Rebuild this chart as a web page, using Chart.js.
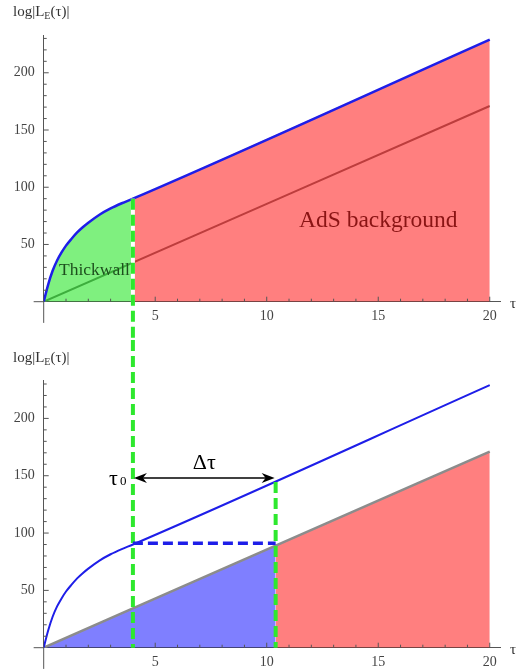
<!DOCTYPE html>
<html>
<head>
<meta charset="utf-8">
<script src="https://cdn.jsdelivr.net/npm/chart.js@4.4.0/dist/chart.umd.min.js"></script>
<style>
  body { margin: 0; background: #fff; }
  .box { position: absolute; left: 0; width: 518px; }
  #top { top: 0; height: 340px; }
  #bottom { top: 340px; height: 331px; }
</style>
</head>
<body>
<div class="box" id="top"><canvas id="chartTop"></canvas></div>
<div class="box" id="bottom"><canvas id="chartBottom"></canvas></div>
<script>
// blue curve log|L_E(tau)|
const tauBlue = [0, 0.2, 0.4, 0.6, 0.8, 1, 1.25, 1.5, 1.75, 2, 2.5, 3, 3.5, 4, 20];
const logBlue = [0, 15, 27, 36, 43, 49, 55, 60.5, 65, 69, 76, 81.5, 86, 90, 229];
// straight AdS background line
const tauGray = [0, 10.4, 20];
const logGray = [0, 89, 171];
// markers
const tau0 = 4;
const tau1 = 10.4;
const arrowLevel = 148;
const dashLevel = 91;
// ticks (minor every 1 / 10, labelled ones listed separately)
const xTicks = [0, 1, 2, 3, 4, 5, 6, 7, 8, 9, 10, 11, 12, 13, 14, 15, 16, 17, 18, 19, 20];
const yTicks = [0, 10, 20, 30, 40, 50, 60, 70, 80, 90, 100, 110, 120, 130, 140, 150, 160, 170, 180, 190, 200, 210, 220, 230];
const xTickLabels = [5, 10, 15, 20];
const yTickLabels = [50, 100, 150, 200];

const serif = "'Liberation Serif', 'DejaVu Serif', serif";
const green = '#2ee82e';
const blue = '#1e1ee8';

const bluePts = tauBlue.map((t, i) => ({ x: t, y: logBlue[i] }));
const grayPts = tauGray.map((t, i) => ({ x: t, y: logGray[i] }));

function scalesFor(yMax, xAxisHeight) {
    return {
        x: {
            type: 'linear', min: 0, max: 20.5,
            grid: { display: true, drawOnChartArea: false, drawTicks: false },
            border: { color: '#555', width: 1 },
            ticks: {
                autoSkip: false, maxRotation: 0, padding: 6,
                color: '#444', font: { family: serif, size: 14 },
                callback: v => xTickLabels.includes(v) ? String(v) : ''
            },
            afterBuildTicks: s => { s.ticks = xTicks.map(v => ({ value: v })); },
            afterFit: s => { s.height = xAxisHeight; }
        },
        y: {
            min: 0, max: yMax,
            grid: { display: true, drawOnChartArea: false, drawTicks: false },
            border: { color: '#555', width: 1 },
            ticks: {
                autoSkip: false, padding: 9,
                color: '#444', font: { family: serif, size: 14 },
                callback: v => yTickLabels.includes(v) ? String(v) : ''
            },
            afterBuildTicks: s => { s.ticks = yTicks.map(v => ({ value: v })); },
            afterFit: s => { s.width = 43.7; }
        }
    };
}

// Mathematica-like axes: inward ticks, stubs past the origin, axis titles
const mathAxes = {
    id: 'mathAxes',
    afterDraw(chart) {
        const { ctx, scales: { x, y } } = chart;
        const x0 = x.getPixelForValue(0), y0 = y.getPixelForValue(0);
        ctx.save();
        ctx.strokeStyle = '#555';
        ctx.lineWidth = 1;
        ctx.beginPath();
        ctx.moveTo(x.getPixelForValue(-0.45), y0); ctx.lineTo(x0, y0);
        ctx.moveTo(x0, y0); ctx.lineTo(x0, y.getPixelForValue(-18.5));
        x.ticks.forEach(t => {
            if (t.value > 0) {
                const px = x.getPixelForValue(t.value);
                ctx.moveTo(px, y0); ctx.lineTo(px, y0 - (t.value % 5 === 0 ? 5 : 3));
            }
        });
        y.ticks.forEach(t => {
            if (t.value > 0) {
                const py = y.getPixelForValue(t.value);
                ctx.moveTo(x0, py); ctx.lineTo(x0 + (t.value % 50 === 0 ? 5 : 3), py);
            }
        });
        ctx.stroke();

        // axis titles
        ctx.fillStyle = '#333';
        ctx.textBaseline = 'alphabetic';
        let tx = 13;
        const ty = chart.options.titleY;
        ctx.font = '15px ' + serif;
        ctx.fillText('log|L', tx, ty); tx += ctx.measureText('log|L').width;
        ctx.font = '10px ' + serif;
        ctx.fillText('E', tx, ty + 3); tx += ctx.measureText('E').width;
        ctx.font = '15px ' + serif;
        ctx.fillText('(τ)|', tx, ty);
        ctx.textBaseline = 'middle';
        ctx.font = '15px ' + serif;
        ctx.fillText('τ', 510, y0 + 2);
        ctx.restore();
    }
};

function dashed(ctx, color, width, dash, x1, y1, x2, y2) {
    ctx.save();
    ctx.strokeStyle = color;
    ctx.lineWidth = width;
    ctx.setLineDash(dash);
    ctx.beginPath();
    ctx.moveTo(x1, y1); ctx.lineTo(x2, y2);
    ctx.stroke();
    ctx.restore();
}

const topMarks = {
    id: 'topMarks',
    afterDraw(chart) {
        const { ctx, scales: { x, y } } = chart;
        const px = x.getPixelForValue(tau0);
        const yStart = y.getPixelForValue(logBlue[tauBlue.indexOf(tau0)]);
        ctx.save();
        ctx.strokeStyle = '#fff'; ctx.lineWidth = 4;
        ctx.beginPath(); ctx.moveTo(px, yStart); ctx.lineTo(px, y.getPixelForValue(0)); ctx.stroke();
        ctx.restore();
        dashed(ctx, green, 4, [11, 5], px, yStart, px, chart.height);

        ctx.save();
        ctx.textBaseline = 'middle';
        ctx.fillStyle = '#1d4f1d';
        ctx.font = '17.5px ' + serif;
        ctx.fillText('Thickwall', 59, 270);
        ctx.fillStyle = '#8a1414';
        ctx.font = '23.5px ' + serif;
        ctx.fillText('AdS background', 299, 221);
        ctx.restore();
    }
};

function arrowHead(ctx, tipX, tipY, dir) {
    ctx.beginPath();
    ctx.moveTo(tipX, tipY);
    ctx.lineTo(tipX + dir * 13, tipY - 5);
    ctx.lineTo(tipX + dir * 9, tipY);
    ctx.lineTo(tipX + dir * 13, tipY + 5);
    ctx.closePath();
    ctx.fill();
}

const bottomMarks = {
    id: 'bottomMarks',
    afterDraw(chart) {
        const { ctx, scales: { x, y } } = chart;
        const p0 = x.getPixelForValue(tau0), p1 = x.getPixelForValue(tau1);
        const y0 = y.getPixelForValue(0);
        const ya = y.getPixelForValue(arrowLevel);
        const yd = y.getPixelForValue(dashLevel);
        dashed(ctx, green, 4, [11, 5], p0, 0, p0, y0);
        dashed(ctx, green, 4, [11, 5], p1, ya + 4, p1, y0);
        dashed(ctx, blue, 3.5, [10, 5], p0, yd, p1, yd);

        ctx.save();
        ctx.strokeStyle = '#000'; ctx.fillStyle = '#000'; ctx.lineWidth = 1.5;
        ctx.beginPath(); ctx.moveTo(p0 + 8, ya); ctx.lineTo(p1 - 8, ya); ctx.stroke();
        arrowHead(ctx, p0 + 1, ya, 1);
        arrowHead(ctx, p1 - 1, ya, -1);

        ctx.textBaseline = 'middle';
        ctx.textAlign = 'center';
        ctx.font = '22px ' + serif;
        ctx.fillText('Δτ', (p0 + p1) / 2, ya - 15);
        ctx.textAlign = 'left';
        ctx.fillText('τ', 109, ya + 1);
        ctx.font = '13px ' + serif;
        ctx.fillText('0', 120, ya + 4);
        ctx.restore();
    }
};

const common = {
    responsive: true,
    maintainAspectRatio: false,
    animation: false,
    events: [],
    plugins: { legend: { display: false }, tooltip: { enabled: false } },
    elements: { point: { radius: 0 }, line: { cubicInterpolationMode: 'monotone' } }
};

new Chart(document.getElementById('chartTop'), {
    type: 'line',
    data: {
        datasets: [
            { data: bluePts, borderColor: blue, borderWidth: 2.5, fill: false, order: 0 },
            { data: bluePts.filter(p => p.x <= tau0), borderWidth: 0, fill: 'origin',
              backgroundColor: 'rgba(0,225,0,0.5)', order: 1 },
            { data: bluePts.filter(p => p.x >= tau0), borderWidth: 0, fill: 'origin',
              backgroundColor: 'rgba(255,0,0,0.5)', order: 1 },
            { data: [grayPts[0], grayPts[2]], borderColor: '#7a7a7a', borderWidth: 2, fill: false, order: 2 }
        ]
    },
    options: Object.assign({}, common, {
        titleY: 16,
        layout: { padding: { top: 35, right: 17.1, left: 0, bottom: 0 } },
        scales: scalesFor(233, 38.3)
    }),
    plugins: [mathAxes, topMarks]
});

new Chart(document.getElementById('chartBottom'), {
    type: 'line',
    data: {
        datasets: [
            { data: bluePts, borderColor: blue, borderWidth: 2, fill: false, order: 0 },
            { data: grayPts, borderColor: '#8c8c8c', borderWidth: 2.5, fill: false, order: 1 },
            { data: grayPts.filter(p => p.x <= tau1), borderWidth: 0, fill: 'origin',
              backgroundColor: 'rgba(0,0,255,0.5)', order: 2 },
            { data: grayPts.filter(p => p.x >= tau1), borderWidth: 0, fill: 'origin',
              backgroundColor: 'rgba(255,0,0,0.5)', order: 2 }
        ]
    },
    options: Object.assign({}, common, {
        titleY: 22,
        layout: { padding: { top: 40, right: 17.1, left: 0, bottom: 0 } },
        scales: scalesFor(233.5, 23.3)
    }),
    plugins: [mathAxes, bottomMarks]
});
</script>
</body>
</html>
